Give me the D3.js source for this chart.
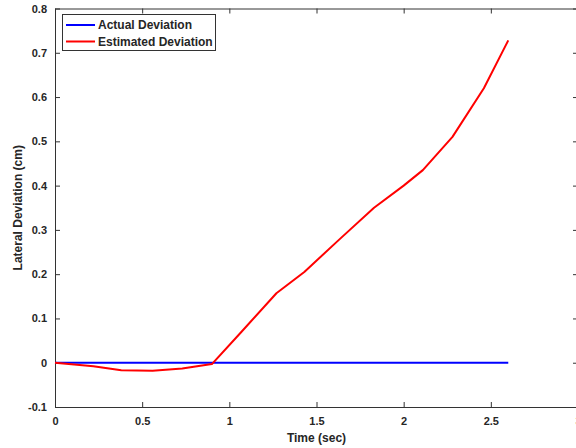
<!DOCTYPE html>
<html>
<head>
<meta charset="utf-8">
<script src="https://cdn.jsdelivr.net/npm/d3@7"></script>
<style>
  html, body { margin: 0; padding: 0; background: #fff; }
  svg { display: block; }
  text { font-family: "Liberation Sans", Arial, Helvetica, sans-serif; font-weight: bold; fill: #262626; }
</style>
</head>
<body>
<svg id="chart" width="576" height="448"></svg>
<script>
// Lateral deviation over time: actual vs estimated
const timeActual = [0, 2.6];
const actualDeviation = [0, 0];

const timeEstimated = [0, 0.22, 0.38, 0.56, 0.73, 0.90, 1.07, 1.27, 1.43, 1.63, 1.83, 2.0, 2.11, 2.28, 2.46, 2.60];
const estimatedDeviation = [0, -0.008, -0.017, -0.018, -0.013, -0.003, 0.07, 0.157, 0.205, 0.278, 0.35, 0.40, 0.435, 0.51, 0.62, 0.728];

const xTicks = [0, 0.5, 1, 1.5, 2, 2.5, 3];
const yTicks = [-0.1, 0, 0.1, 0.2, 0.3, 0.4, 0.5, 0.6, 0.7, 0.8];
const seriesNames = ["Actual Deviation", "Estimated Deviation"];
const seriesColors = ["#0000ff", "#ff0000"];

const svg = d3.select("#chart");
const plotLeft = 55, plotRight = 578, plotTop = 8.5, plotBottom = 407;

const x = d3.scaleLinear().domain([0, 3]).range([plotLeft, plotRight]);
const y = d3.scaleLinear().domain([-0.1, 0.8]).range([plotBottom, plotTop]);

const axisColor = "#333333";
const fmt = d => (d === 0 ? "0" : String(+d.toFixed(2)));

// bottom axis
const gx = svg.append("g").attr("transform", `translate(0,${plotBottom})`)
  .call(d3.axisBottom(x).tickValues(xTicks).tickSizeInner(-5).tickSizeOuter(0).tickPadding(10).tickFormat(fmt));
// top axis (ticks only)
const gxt = svg.append("g").attr("transform", `translate(0,${plotTop})`)
  .call(d3.axisTop(x).tickValues(xTicks).tickSizeInner(-5).tickSizeOuter(0).tickFormat(""));
// left axis
const gy = svg.append("g").attr("transform", `translate(${plotLeft},0)`)
  .call(d3.axisLeft(y).tickValues(yTicks).tickSizeInner(-5).tickSizeOuter(0).tickPadding(8).tickFormat(fmt));
// right axis (ticks only)
const gyr = svg.append("g").attr("transform", `translate(${plotRight},0)`)
  .call(d3.axisRight(y).tickValues(yTicks).tickSizeInner(-5).tickSizeOuter(0).tickFormat(""));

[gx, gxt, gy, gyr].forEach(g => {
  g.selectAll("path.domain").attr("stroke", axisColor).attr("stroke-width", 1);
  g.selectAll(".tick line").attr("stroke", axisColor).attr("stroke-width", 1);
  g.selectAll(".tick text").style("font-size", "11px").attr("fill", axisColor)
    .style("font-family", '"Liberation Sans", Arial, sans-serif').style("font-weight", "bold");
});

// axis labels
svg.append("text").attr("x", (plotLeft + plotRight) / 2).attr("y", 442)
  .attr("text-anchor", "middle").style("font-size", "12px").text("Time (sec)");
svg.append("text").attr("transform", `translate(22,${(plotTop + plotBottom) / 2}) rotate(-90)`)
  .attr("text-anchor", "middle").style("font-size", "12px").text("Lateral Deviation (cm)");

// lines
const line = d3.line().x(d => x(d[0])).y(d => y(d[1]));
const actualPts = timeActual.map((t, i) => [t, actualDeviation[i]]);
const estPts = timeEstimated.map((t, i) => [t, estimatedDeviation[i]]);

svg.append("path").datum(actualPts).attr("d", line)
  .attr("fill", "none").attr("stroke", seriesColors[0]).attr("stroke-width", 2);
svg.append("path").datum(estPts).attr("d", line)
  .attr("fill", "none").attr("stroke", seriesColors[1]).attr("stroke-width", 2)
  .attr("stroke-linejoin", "round");

// legend
const lg = svg.append("g");
lg.append("rect").attr("x", 62.5).attr("y", 14.5).attr("width", 153).attr("height", 36)
  .attr("fill", "#fff").attr("stroke", axisColor).attr("stroke-width", 1);
seriesNames.forEach((name, i) => {
  const yy = 25 + i * 16.5;
  lg.append("line").attr("x1", 66).attr("x2", 95).attr("y1", yy).attr("y2", yy)
    .attr("stroke", seriesColors[i]).attr("stroke-width", 2);
  lg.append("text").attr("x", 98).attr("y", yy + 4).style("font-size", "12px").text(name);
});
</script>
</body>
</html>
